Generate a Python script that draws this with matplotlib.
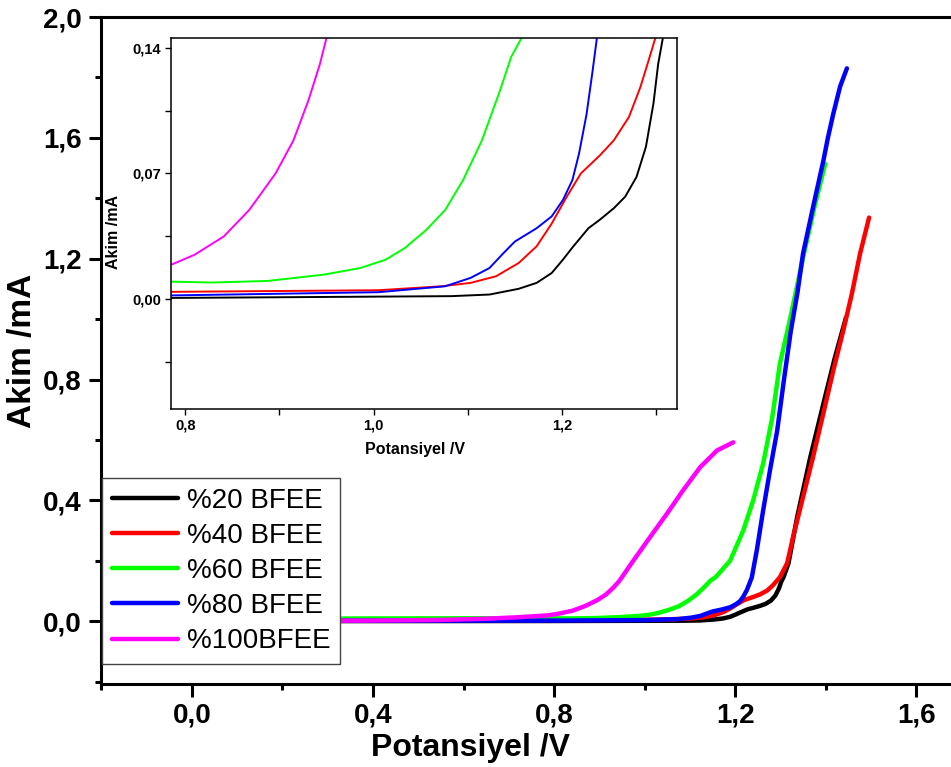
import matplotlib
matplotlib.use("Agg")
import matplotlib.pyplot as plt
from matplotlib.ticker import MultipleLocator, FuncFormatter

plt.rcParams["font.family"] = ["Liberation Sans", "DejaVu Sans"]

labels = ["%20 BFEE", "%40 BFEE", "%60 BFEE", "%80 BFEE", "%100BFEE"]
colors = ["#000000", "#ff0000", "#00ff00", "#0000ff", "#ff00ff"]

# potential (V) / current (mA)
v20 = [0.0, 0.4, 0.785, 1.083, 1.123, 1.154, 1.173, 1.189, 1.201, 1.212, 1.228,
       1.240, 1.255, 1.267, 1.279, 1.289, 1.297, 1.302, 1.307, 1.318, 1.337,
       1.366, 1.40, 1.42, 1.445]
i20 = [0.0, 0.0003, 0.0005, 0.0015, 0.0024, 0.0056, 0.0089, 0.0144, 0.0219,
       0.0293, 0.0394, 0.0441, 0.0506, 0.057, 0.068, 0.0848, 0.109, 0.131,
       0.1456, 0.192, 0.344, 0.542, 0.75, 0.87, 1.005]

v40 = [0.0, 0.4, 0.785, 1.005, 1.072, 1.103, 1.130, 1.154, 1.173, 1.189, 1.205,
       1.220, 1.240, 1.255, 1.271, 1.283, 1.293, 1.299, 1.315, 1.328, 1.350,
       1.372, 1.395, 1.417, 1.439, 1.458, 1.476, 1.496]
i40 = [0.003, 0.0035, 0.0039, 0.0048, 0.007, 0.0089, 0.0126, 0.020, 0.0293,
       0.042, 0.057, 0.070, 0.080, 0.0885, 0.1015, 0.118, 0.135, 0.1456, 0.192,
       0.278, 0.41, 0.542, 0.688, 0.83, 0.962, 1.084, 1.216, 1.336]

v60 = [0.0, 0.2, 0.4, 0.6, 0.785, 0.829, 0.888, 0.947, 0.986, 1.013, 1.033,
       1.056, 1.076, 1.095, 1.115, 1.134, 1.146, 1.157, 1.189, 1.218, 1.240,
       1.262, 1.282, 1.299, 1.320, 1.352, 1.375, 1.399]
i60 = [0.006, 0.008, 0.009, 0.0095, 0.0096, 0.0091, 0.010, 0.0135, 0.0172,
       0.0219, 0.0283, 0.0385, 0.0496, 0.0663, 0.0885, 0.116, 0.135, 0.1456,
       0.20, 0.30, 0.40, 0.522, 0.674, 0.853, 0.99, 1.216, 1.369, 1.514]

v80 = [0.0, 0.4, 0.785, 1.005, 1.076, 1.103, 1.123, 1.138, 1.150, 1.173, 1.189,
       1.201, 1.211, 1.218, 1.226, 1.232, 1.237, 1.248, 1.262, 1.277, 1.293,
       1.308, 1.323, 1.338, 1.350, 1.372, 1.395, 1.405, 1.417, 1.432, 1.447]
i80 = [0.001, 0.0015, 0.0019, 0.0037, 0.007, 0.0117, 0.0172, 0.0256, 0.032,
       0.0394, 0.046, 0.0552, 0.0663, 0.081, 0.103, 0.1256, 0.1456, 0.235,
       0.367, 0.499, 0.631, 0.80, 0.96, 1.09, 1.216, 1.369, 1.524, 1.60, 1.68,
       1.77, 1.83]

v100 = [0.0, 0.2, 0.4, 0.55, 0.65, 0.72, 0.785, 0.81, 0.841, 0.868, 0.896,
        0.915, 0.931, 0.943, 0.95, 0.975, 1.012, 1.05, 1.085, 1.123, 1.16, 1.196]
i100 = [0.0, 0.001, 0.002, 0.004, 0.008, 0.013, 0.019, 0.0246, 0.0348, 0.0496,
        0.07, 0.0885, 0.111, 0.131, 0.1456, 0.20, 0.278, 0.357, 0.433, 0.51,
        0.565, 0.592]

curves = [(v20, i20), (v40, i40), (v60, i60), (v80, i80), (v100, i100)]


def comma(fmt):
    def f(v, pos):
        if abs(v) < 1e-9:
            v = 0.0
        return fmt.format(v).replace(".", ",")
    return FuncFormatter(f)


W, H = 951, 767
fig = plt.figure(figsize=(W / 100, H / 100), dpi=100)

# ---- main panel
ax = fig.add_axes([101 / W, 83 / H, 850 / W, 667 / H])
for (v, i), c, lab in zip(curves, colors, labels):
    ax.plot(v, i, color=c, lw=3.2, solid_capstyle="round", label=lab)

ax.set_xlim(-0.201, 1.677)
ax.set_ylim(-0.208, 2.0)
ax.spines["right"].set_visible(False)
for sp in ("left", "top", "bottom"):
    ax.spines[sp].set_linewidth(2.2)
ax.xaxis.set_major_locator(MultipleLocator(0.4))
ax.xaxis.set_minor_locator(MultipleLocator(0.2))
ax.yaxis.set_major_locator(MultipleLocator(0.4))
ax.yaxis.set_minor_locator(MultipleLocator(0.2))
ax.xaxis.set_major_formatter(comma("{:.1f}"))
ax.yaxis.set_major_formatter(comma("{:.1f}"))
ax.tick_params(which="major", direction="out", length=9, width=2.2, pad=4,
               labelsize=20)
ax.tick_params(which="minor", direction="out", length=4.5, width=2.2)
ax.tick_params(axis="y", which="major", pad=5)
for t in ax.get_xticklabels() + ax.get_yticklabels():
    t.set_fontweight("bold")

ax.set_xlabel("Potansiyel /V", fontsize=23, fontweight="bold")
ax.set_ylabel("Akim /mA", fontsize=24, fontweight="bold")
ax.xaxis.set_label_coords(0.435, -0.073)
ax.yaxis.set_label_coords(-0.074, 0.5)

leg = ax.legend(loc="lower left", bbox_to_anchor=(102 / W, 103 / H),
                bbox_transform=fig.transFigure, fontsize=20, frameon=True,
                fancybox=False, framealpha=1, edgecolor="#444444",
                handlelength=2.4, handletextpad=0.3, labelspacing=0.33,
                borderpad=0.35, borderaxespad=0)
leg.get_frame().set_linewidth(1.0)

# ---- inset: zoom on the onset region
axi = fig.add_axes([171 / W, (H - 409) / H, 506 / W, 371 / H])
for (v, i), c in zip(curves, colors):
    axi.plot(v, i, color=c, lw=1.4)
axi.set_xlim(0.785, 1.322)
axi.set_ylim(-0.0615, 0.1456)
for sp in axi.spines.values():
    sp.set_linewidth(1.1)
axi.xaxis.set_major_locator(MultipleLocator(0.2))
axi.xaxis.set_minor_locator(MultipleLocator(0.1))
axi.yaxis.set_major_locator(MultipleLocator(0.07))
axi.yaxis.set_minor_locator(MultipleLocator(0.035))
axi.xaxis.set_major_formatter(comma("{:.1f}"))
axi.yaxis.set_major_formatter(comma("{:.2f}"))
axi.tick_params(which="both", direction="out", length=4, width=1.0,
                labelsize=10.5, pad=3)
for t in axi.get_xticklabels() + axi.get_yticklabels():
    t.set_fontweight("bold")
axi.set_xlabel("Potansiyel /V", fontsize=11.5, fontweight="bold")
axi.set_ylabel("Akim /mA", fontsize=11.5, fontweight="bold")
axi.xaxis.set_label_coords(0.482, -0.088)
axi.yaxis.set_label_coords(-0.098, 0.477)

fig.savefig("out.png", dpi=100)
